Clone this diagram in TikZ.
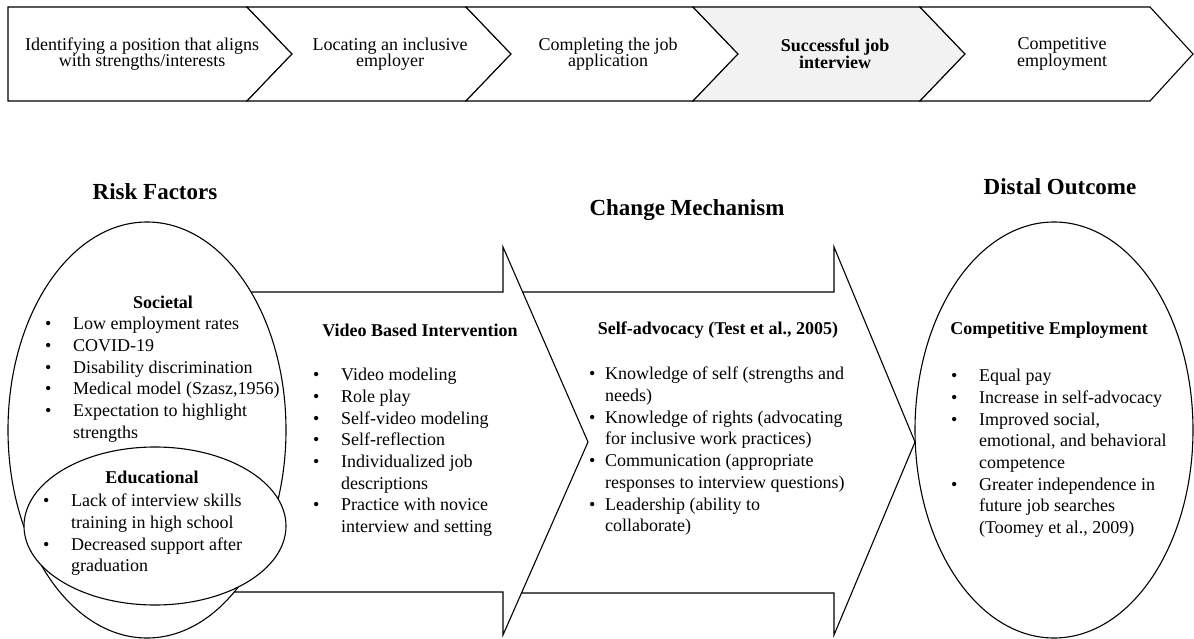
\documentclass[tikz,border=0pt]{standalone}
\usepackage{fontspec}
\setmainfont{Liberation Serif}
\usetikzlibrary{positioning}
\definecolor{boxgrey}{HTML}{F2F2F2}

% 箇条書きの点
\newcommand{\bul}{\leavevmode\llap{\makebox[28pt][l]{\textbullet}}}
\newcommand{\bulnarrow}{\leavevmode\llap{\makebox[16pt][l]{\textbullet}}}
% 上段の詰めた行間
\newcommand{\tightfont}{\fontsize{18}{16.5}\selectfont\lineskiplimit=-20pt\relax}

\begin{document}
\begin{tikzpicture}[x=1pt, y=-1pt,
    shape line/.style={draw=black, line width=1.1pt, line join=miter},
    stagetext/.style={font=\tightfont, align=center, inner sep=0pt},
    title/.style={font=\bfseries\fontsize{23}{26}\selectfont, inner sep=0pt},
    subhead/.style={font=\bfseries\fontsize{18}{21.7}\selectfont, inner sep=0pt},
    list/.style={font=\fontsize{18}{21.7}\selectfont, align=left, anchor=north west, inner sep=0pt}]
    \useasboundingbox (0,0) rectangle (1194,639);

    % 上段: 就職までの段階
    \foreach \i/\l/\n/\c/\d/\f/\cx/\txt in {
        1/8/0/247/45/white/142/{Identifying a position that aligns\\with strengths/interests},
        2/247/45/466/45/white/390/{Locating an inclusive\\employer},
        3/466/45/693/45/white/608/{Completing the job\\application},
        4/693/45/920/45/boxgrey/835/{\textbf{Successful job}\\\textbf{interview}},
        5/920/45/1150/43/white/1062/{Competitive\\employment}} {
        \draw[shape line, fill=\f] (\l,7) -- (\c,7) -- (\c+\d,54) -- (\c,101) -- (\l,101) -- (\l+\n,54) -- cycle;
        \node[stagetext] (s\i) at (\cx,54) {\txt};
    }

    % 大きな矢印 (後ろから)
    \draw[shape line, fill=white] (510,292) -- (834,292) -- (834,247) -- (915,442)
        -- (834,635) -- (834,593) -- (510,593) -- cycle;
    \draw[shape line, fill=white] (200,292) -- (503,292) -- (503,247) -- (588,442)
        -- (503,635) -- (503,592) -- (200,592) -- cycle;

    % 楕円
    \draw[shape line, fill=white] (147,430) ellipse [x radius=139pt, y radius=208pt];
    \draw[shape line, fill=white] (155,526) ellipse [x radius=131pt, y radius=79pt];
    \draw[shape line, fill=white] (1054,430) ellipse [x radius=139pt, y radius=208pt];

    % 見出し
    \node[title] (risk) at (155,192) {Risk Factors};
    \node[title] (change) at (687,210) {Change Mechanism};
    \node[title] (distal) at (1060,187) {Distal Outcome};

    % 危険因子
    \node[subhead] (soc) at (163,302) {Societal};
    \node[list] (soclist) at (73,317) {\bul Low employment rates\\
        \bul COVID-19\\
        \bul Disability discrimination\\
        \bul Medical model (Szasz,1956)\\
        \bul Expectation to highlight\\
        strengths};
    \node[subhead] (edu) at (152,477) {Educational};
    \node[list] (edulist) at (71,494) {\bul Lack of interview skills\\
        training in high school\\
        \bul Decreased support after\\
        graduation};

    % 介入
    \node[subhead] (video) at (420,330) {Video Based Intervention};
    \node[list] (videolist) at (341,368) {\bul Video modeling\\
        \bul Role play\\
        \bul Self-video modeling\\
        \bul Self-reflection\\
        \bul Individualized job\\
        descriptions\\
        \bul Practice with novice\\
        interview and setting};

    % 変化のメカニズム
    \node[subhead] (selfadv) at (718,330) {Self-advocacy (Test et al., 2005)};
    \node[list] (selfadvlist) at (605,367) {\bulnarrow Knowledge of self (strengths and\\
        needs)\\
        \bulnarrow Knowledge of rights (advocating\\
        for inclusive work practices)\\
        \bulnarrow Communication (appropriate\\
        responses to interview questions)\\
        \bulnarrow Leadership (ability to\\
        collaborate)};

    % 遠位の結果
    \node[subhead] (comp) at (1049,330) {Competitive Employment};
    \node[list] (complist) at (979,369) {\bul Equal pay\\
        \bul Increase in self-advocacy\\
        \bul Improved social,\\
        emotional, and behavioral\\
        competence\\
        \bul Greater independence in\\
        future job searches\\
        (Toomey et al., 2009)};
\end{tikzpicture}
\end{document}
